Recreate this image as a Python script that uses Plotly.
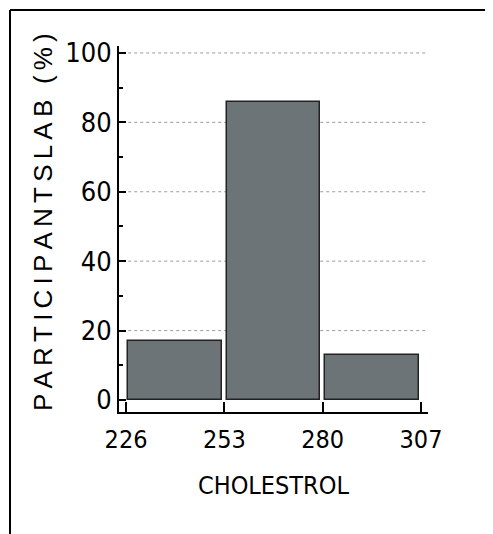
import plotly.graph_objects as go

# Data
bin_starts = [226, 253, 280]
participants_pct = [17, 86, 13]
x_ticks = [226, 253, 280, 307]
y_ticks = [0, 20, 40, 60, 80, 100]
x_title = "CHOLESTROL"
y_title = "PARTICIPANTSLAB (%)"

narrow = "Liberation Sans Narrow, DejaVu Sans Condensed, Arial Narrow, sans-serif"
regular = "Liberation Sans, Arial, sans-serif"

# page body has an 8px margin -> figure is 8px smaller and shifted
W, H = 485, 526
L_M, R_M, T_M, B_M = 111, 65, 38, 122
PW = W - L_M - R_M
PH = H - T_M - B_M


def px(xp):
    return (xp - L_M) / PW


def py(yp):
    return 1 - (yp - T_M) / PH


fig = go.Figure()
fig.add_trace(go.Bar(
    x=bin_starts, y=participants_pct,
    offset=0.6, width=25.8,
    marker=dict(color="#6d7477", line=dict(color="#222222", width=1.5)),
    showlegend=False,
))

# dotted gridlines (not at 0)
for v in y_ticks:
    if v > 0:
        fig.add_shape(type="line", xref="x", yref="y", x0=226.6, x1=308.9, y0=v, y1=v,
                      line=dict(color="#9a9a9a", width=1, dash="dot"), layer="below")

# frame (left + top edges)
fig.add_shape(type="line", xref="paper", yref="paper", x0=px(2), x1=px(2), y0=-2, y1=py(2),
              line=dict(color="black", width=2))
fig.add_shape(type="line", xref="paper", yref="paper", x0=px(2), x1=2, y0=py(2), y1=py(2),
              line=dict(color="black", width=2))

thin = "\u2009"
spaced = thin.join(list("PARTICIPANTSLAB")) + thin * 3 + thin.join(list("(%)"))

fig.add_annotation(xref="paper", yref="paper", x=px(35), y=py(214), text=spaced,
                   textangle=-90, showarrow=False, xanchor="center", yanchor="middle",
                   font=dict(family=regular, size=26, color="black"))
fig.add_annotation(xref="paper", yref="paper", x=px(265), y=py(477), text=x_title,
                   showarrow=False, xanchor="center", yanchor="middle",
                   font=dict(family=narrow, size=25, color="black"))

fig.update_layout(
    width=W, height=H,
    margin=dict(l=L_M, r=R_M, t=T_M, b=B_M),
    paper_bgcolor="white", plot_bgcolor="rgba(0,0,0,0)",
    xaxis=dict(range=[224.07, 308.93], tickvals=x_ticks, ticktext=[str(t) for t in x_ticks],
               ticks="inside", ticklen=10, tickwidth=1.5, tickcolor="black",
               showline=True, linecolor="black", linewidth=2, showgrid=False, zeroline=False,
               ticklabelstandoff=4,
               tickfont=dict(family=narrow, size=25, color="black")),
    yaxis=dict(range=[-3.46, 102.0], tickvals=y_ticks,
               ticks="inside", ticklen=7, tickwidth=1.5, tickcolor="black",
               minor=dict(dtick=10, ticks="inside", ticklen=4, tickcolor="black", showgrid=False),
               showline=True, linecolor="black", linewidth=2, showgrid=False, zeroline=False,
               tickfont=dict(family=narrow, size=27, color="black")),
    bargap=0,
)

fig.write_html("out.html")
